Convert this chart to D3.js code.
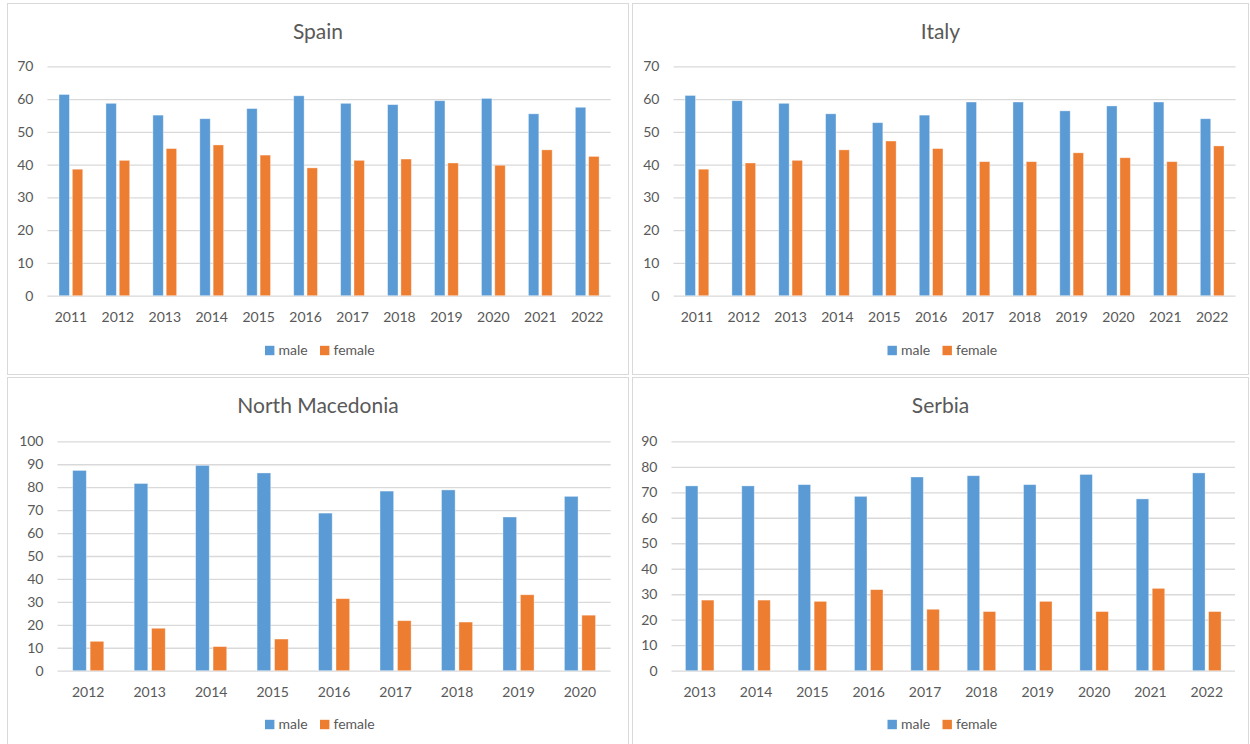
<!DOCTYPE html>
<html>
<head>
<meta charset="utf-8">
<script src="https://cdn.jsdelivr.net/npm/d3@7"></script>
<style>
  html, body { margin: 0; padding: 0; background: #fff; }
  svg { display: block; font-family: Lato, "Open Sans", sans-serif; }
</style>
</head>
<body>
<svg id="chart" width="1250" height="744"></svg>
<script>
// Share of male / female (%) by year, per country
const seriesNames = ["male", "female"];

const spainYears  = ["2011","2012","2013","2014","2015","2016","2017","2018","2019","2020","2021","2022"];
const spainMale   = [61.4, 58.7, 55.1, 54.0, 57.1, 61.0, 58.7, 58.3, 59.5, 60.2, 55.5, 57.5];
const spainFemale = [38.6, 41.3, 44.9, 46.0, 42.9, 39.0, 41.3, 41.7, 40.5, 39.8, 44.5, 42.5];
const spainTicks  = [0, 10, 20, 30, 40, 50, 60, 70];

const italyYears  = ["2011","2012","2013","2014","2015","2016","2017","2018","2019","2020","2021","2022"];
const italyMale   = [61.1, 59.5, 58.7, 55.5, 52.8, 55.1, 59.1, 59.1, 56.4, 57.9, 59.1, 54.0];
const italyFemale = [38.6, 40.5, 41.3, 44.5, 47.2, 44.9, 40.9, 40.9, 43.6, 42.1, 40.9, 45.7];
const italyTicks  = [0, 10, 20, 30, 40, 50, 60, 70];

const macedoniaYears  = ["2012","2013","2014","2015","2016","2017","2018","2019","2020"];
const macedoniaMale   = [87.3, 81.6, 89.5, 86.2, 68.7, 78.3, 78.8, 67.0, 76.0];
const macedoniaFemale = [12.8, 18.5, 10.5, 13.8, 31.4, 21.8, 21.2, 33.1, 24.2];
const macedoniaTicks  = [0, 10, 20, 30, 40, 50, 60, 70, 80, 90, 100];

const serbiaYears  = ["2013","2014","2015","2016","2017","2018","2019","2020","2021","2022"];
const serbiaMale   = [72.5, 72.5, 73.0, 68.4, 76.0, 76.5, 73.0, 77.0, 67.4, 77.6];
const serbiaFemale = [27.7, 27.7, 27.2, 31.8, 24.1, 23.2, 27.2, 23.2, 32.3, 23.2];
const serbiaTicks  = [0, 10, 20, 30, 40, 50, 60, 70, 80, 90];

const colors = { male: "#5b9bd5", female: "#ed7d31" };
const textColor = "#595959";
const gridColor = "#d9d9d9";

const svg = d3.select("#chart");

// Panel frames and plot areas
const panels = [
  { title: "Spain", years: spainYears, male: spainMale, female: spainFemale, ticks: spainTicks,
    frame: { x: 7.5, y: 3.5, w: 621, h: 371 }, plot: { x0: 47.4, x1: 610.7, y0: 66.3, y1: 295.7 } },
  { title: "Italy", years: italyYears, male: italyMale, female: italyFemale, ticks: italyTicks,
    frame: { x: 632.5, y: 3.5, w: 616, h: 371 }, plot: { x0: 673.5, x1: 1235.6, y0: 66.3, y1: 295.7 } },
  { title: "North Macedonia", years: macedoniaYears, male: macedoniaMale, female: macedoniaFemale, ticks: macedoniaTicks,
    frame: { x: 7.5, y: 377.5, w: 621, h: 372 }, plot: { x0: 57.5, x1: 610.7, y0: 441.3, y1: 670.7 } },
  { title: "Serbia", years: serbiaYears, male: serbiaMale, female: serbiaFemale, ticks: serbiaTicks,
    frame: { x: 632.5, y: 377.5, w: 616, h: 372 }, plot: { x0: 671.5, x1: 1235.0, y0: 441.3, y1: 670.7 } }
];

panels.forEach(p => {
  const g = svg.append("g");
  const f = p.frame;

  g.append("rect")
    .attr("x", f.x).attr("y", f.y).attr("width", f.w).attr("height", f.h)
    .attr("fill", "#fff").attr("stroke", gridColor).attr("stroke-width", 1);

  const x = d3.scaleBand().domain(p.years).range([p.plot.x0, p.plot.x1]).padding(0);
  const y = d3.scaleLinear().domain([0, d3.max(p.ticks)]).range([p.plot.y1, p.plot.y0]);

  // Gridlines + y labels
  const yAxis = d3.axisLeft(y)
    .tickValues(p.ticks)
    .tickSize(-(p.plot.x1 - p.plot.x0))
    .tickPadding(14)
    .tickFormat(d3.format("d"));
  const ya = g.append("g")
    .attr("transform", `translate(${p.plot.x0},0)`)
    .call(yAxis);
  ya.select(".domain").remove();
  ya.selectAll(".tick line").attr("stroke", gridColor).attr("stroke-width", 1.3);
  ya.selectAll(".tick text")
    .attr("fill", textColor).attr("font-size", 14).attr("font-family", "Lato, sans-serif");

  // Category labels
  const xAxis = d3.axisBottom(x).tickSize(0).tickPadding(16);
  const xa = g.append("g")
    .attr("transform", `translate(0,${p.plot.y1})`)
    .call(xAxis);
  xa.select(".domain").remove();
  xa.selectAll(".tick text")
    .attr("fill", textColor).attr("font-size", 14).attr("font-family", "Lato, sans-serif");

  // Bars
  const band = x.bandwidth();
  const bw = band * 0.222;
  const gap = band * 0.062;
  const rows = p.years.map((yr, i) => ({ year: yr, male: p.male[i], female: p.female[i] }));

  seriesNames.forEach((s, si) => {
    g.append("g").selectAll("rect")
      .data(rows)
      .join("rect")
      .attr("x", d => x(d.year) + band / 2 + (si === 0 ? -gap / 2 - bw : gap / 2))
      .attr("y", d => y(d[s]))
      .attr("width", bw)
      .attr("height", d => y(0) - y(d[s]))
      .attr("fill", colors[s])
      .attr("stroke", "#fff")
      .attr("stroke-opacity", 0.45)
      .attr("stroke-width", 0.8);
  });

  // Title
  const cx = f.x + f.w / 2;
  g.append("text")
    .attr("x", cx).attr("y", f.y + 35)
    .attr("text-anchor", "middle")
    .attr("fill", textColor)
    .attr("font-size", 21)
    .text(p.title);

  // Legend
  const legY = f.y + 347;
  const leg = g.append("g").attr("transform", `translate(${cx - 53},${legY})`);
  const items = [{ name: "male", dx: 0 }, { name: "female", dx: 55 }];
  items.forEach(it => {
    leg.append("rect")
      .attr("x", it.dx).attr("y", -4.7)
      .attr("width", 9.4).attr("height", 9.4)
      .attr("fill", colors[it.name]);
    leg.append("text")
      .attr("x", it.dx + 13.5).attr("y", 0)
      .attr("dy", "0.35em")
      .attr("fill", textColor)
      .attr("font-size", 14)
      .text(it.name);
  });
});
</script>
</body>
</html>
